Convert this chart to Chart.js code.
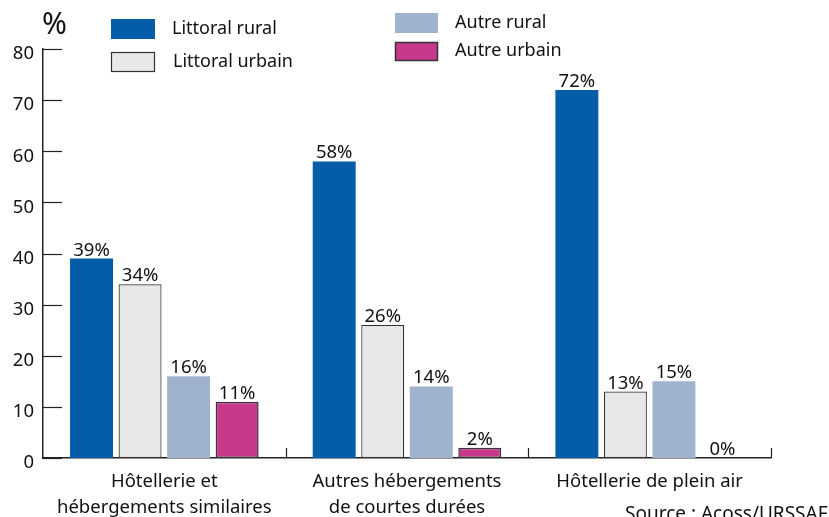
<!DOCTYPE html>
<html>
<head>
<meta charset="utf-8">
<script src="https://cdn.jsdelivr.net/npm/chart.js@4.4.0/dist/chart.umd.min.js"></script>
<style>
  html, body { margin: 0; padding: 0; background: #fff; }
  #wrap { position: relative; width: 829px; height: 517px; }
</style>
</head>
<body>
<div id="wrap"><canvas id="myChart" width="829" height="517"></canvas></div>
<script>
const categories = [['Hôtellerie et', 'hébergements similaires'], ['Autres hébergements', 'de courtes durées'], 'Hôtellerie de plein air'];
const seriesNames = ['Littoral rural', 'Littoral urbain', 'Autre rural', 'Autre urbain'];
const littoralRural = [39, 58, 72];
const littoralUrbain = [34, 26, 13];
const autreRural = [16, 14, 15];
const autreUrbain = [11, 2, 0];
const yTicks = [0, 10, 20, 30, 40, 50, 60, 70, 80];

const FONT = '"Noto Sans", "Open Sans", sans-serif';
const colors = ['#045da8', '#e8e8e8', '#a0b3ce', '#c5388a'];
const borders = ['#045da8', '#333333', '#a0b3ce', '#333333'];
const borderWidths = [0, 1.2, 0, 1.5];
const legendPos = [
    { x: 111, y: 19, w: 44, h: 20, tx: 172, ty: 29 },
    { x: 111, y: 52, w: 44, h: 20, tx: 173, ty: 62 },
    { x: 395, y: 13, w: 43, h: 20, tx: 455, ty: 23 },
    { x: 395, y: 42, w: 43, h: 19, tx: 455, ty: 51 }
];

const allSeries = [littoralRural, littoralUrbain, autreRural, autreUrbain];

// draws legend, value labels, inner ticks, % sign and source
const decorations = {
    id: 'decorations',
    afterDraw(chart) {
        const ctx = chart.ctx;
        const x = chart.scales.x, y = chart.scales.y;
        ctx.save();
        ctx.fillStyle = '#111';
        ctx.strokeStyle = '#222';

        // y ticks pointing inward
        ctx.lineWidth = 1.2;
        yTicks.forEach(v => {
            const py = Math.round(y.getPixelForValue(v)) + 0.5;
            ctx.beginPath();
            ctx.moveTo(x.left, py);
            ctx.lineTo(x.left + 19, py);
            ctx.stroke();
        });

        // x ticks at category boundaries, pointing up
        const step = x.getPixelForValue(1) - x.getPixelForValue(0);
        for (let i = 0; i < categories.length; i++) {
            const px = Math.round(x.getPixelForValue(i) + step / 2) + 0.5;
            ctx.beginPath();
            ctx.moveTo(px, y.bottom);
            ctx.lineTo(px, y.bottom - 10);
            ctx.stroke();
        }

        // value labels
        ctx.font = '18.5px ' + FONT;
        ctx.textAlign = 'center';
        ctx.textBaseline = 'alphabetic';
        chart.data.datasets.forEach((ds, di) => {
            chart.getDatasetMeta(di).data.forEach((bar, i) => {
                ctx.fillText(ds.data[i] + '%', bar.x, bar.y - 3);
            });
        });

        // legend
        ctx.font = '18px ' + FONT;
        ctx.textAlign = 'left';
        ctx.textBaseline = 'middle';
        chart.data.datasets.forEach((ds, di) => {
            const p = legendPos[di];
            ctx.fillStyle = ds.backgroundColor;
            ctx.fillRect(p.x, p.y, p.w, p.h);
            if (ds.borderWidth > 0) {
                ctx.lineWidth = ds.borderWidth;
                ctx.strokeStyle = ds.borderColor;
                ctx.strokeRect(p.x + 0.5, p.y + 0.5, p.w - 1, p.h - 1);
            }
            ctx.fillStyle = '#111';
            ctx.fillText(ds.label, p.tx, p.ty);
        });

        // unit
        ctx.font = '30px ' + FONT;
        ctx.fillText('%', 42, 25);

        // source
        ctx.textBaseline = 'alphabetic';
        ctx.font = '19px ' + FONT;
        ctx.fillText('Source : Acoss/URSSAF', 625, 520);
        ctx.restore();
    }
};

const data = {
    labels: categories,
    datasets: seriesNames.map((name, i) => ({
        label: name,
        data: allSeries[i],
        backgroundColor: colors[i],
        borderColor: borders[i],
        borderWidth: borderWidths[i],
        borderSkipped: false
    }))
};

const config = {
    type: 'bar',
    data: data,
    options: {
        responsive: false,
        animation: false,
        layout: { padding: { top: 49, right: 58, left: 0, bottom: 0 } },
        categoryPercentage: 0.8,
        barPercentage: 0.885,
        plugins: {
            legend: { display: false },
            tooltip: { enabled: false }
        },
        scales: {
            x: {
                grid: { display: false, drawTicks: false },
                border: { color: '#222', width: 1.5 },
                ticks: {
                    color: '#111',
                    font: { family: FONT, size: 18.5, lineHeight: 1.4 },
                    padding: 11,
                    maxRotation: 0
                },
                afterFit(scale) { scale.height = 59; }
            },
            y: {
                min: 0,
                max: 80,
                grid: { display: false, drawTicks: false },
                border: { color: '#222', width: 1.5 },
                ticks: {
                    stepSize: 10,
                    color: '#111',
                    font: { family: FONT, size: 18.5 },
                    padding: 9,
                    labelOffset: 5
                },
                afterFit(scale) { scale.width = 43; }
            }
        }
    },
    plugins: [decorations]
};

const myChart = new Chart(document.getElementById('myChart'), config);
</script>
</body>
</html>
